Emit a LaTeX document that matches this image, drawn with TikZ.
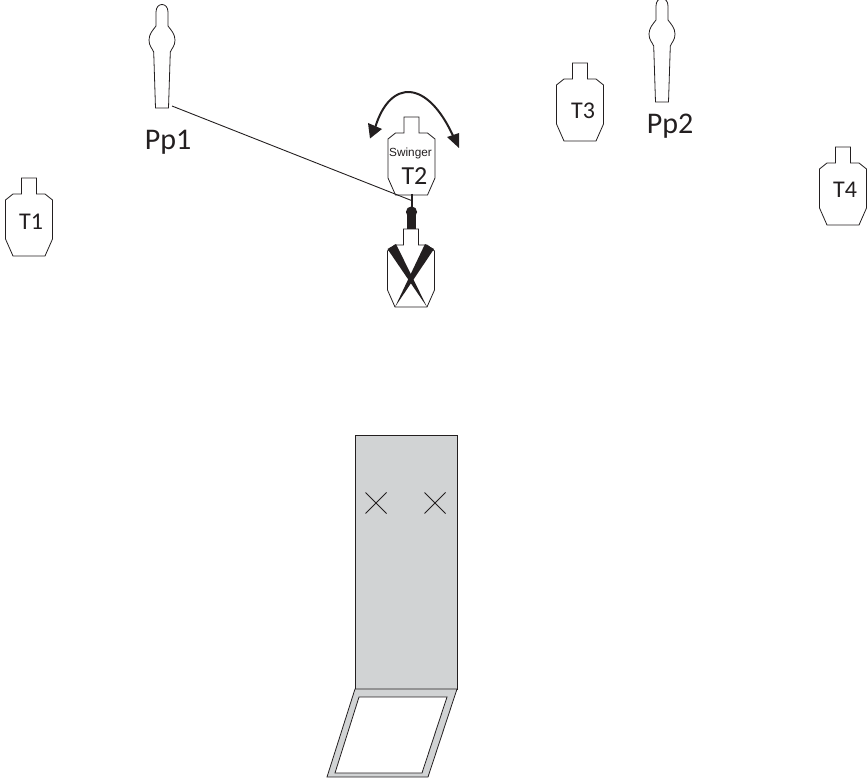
\documentclass[tikz,border=0pt]{standalone}
\usepackage{fontspec}
\setmainfont{Carlito}
\newfontfamily\swfont{Liberation Sans}
\definecolor{rangegray}{HTML}{D1D3D4}
\definecolor{inkline}{HTML}{231F20}
\tikzset{
  outline/.style={draw=inkline,line width=0.8pt,line join=miter},
  thinline/.style={draw=inkline,line width=0.9pt},
  solidink/.style={fill=inkline,draw=none},
  tlabel/.style={inner sep=0pt,text=inkline,font=\fontsize{24}{24}\selectfont},
  tbiglabel/.style={inner sep=0pt,text=inkline,font=\fontsize{26}{26}\selectfont},
  plabel/.style={inner sep=0pt,text=inkline,font=\fontsize{30}{30}\selectfont},
  swlabel/.style={inner sep=0pt,text=inkline,font=\swfont\fontsize{11.8}{12}\selectfont},
  pics/targetshape/.style={code={
    \draw[outline,fill=white] (-7.5,0) -- (7.5,0) -- (7.5,16) -- (16,16) -- (23.5,22) -- (23.5,61) -- (16,78) -- (-16,78) -- (-23.5,61) -- (-23.5,22) -- (-16,16) -- (-7.5,16) -- cycle;
  }},
  pics/personshape/.style={code={
    \draw[outline,fill=white] (-6.5,103) -- (6.5,103) -- (8.3,47)
      .. controls (10,43) and (13,41) .. (13,35)
      .. controls (13,29) and (9,25) .. (6,21)
      -- (6,7) .. controls (6,-3) and (-6,-3) .. (-6,7) -- (-6,21)
      .. controls (-9,25) and (-13,29) .. (-13,35)
      .. controls (-13,41) and (-10,43) .. (-8.3,47) -- cycle;
  }}
}
\begin{document}
\begin{tikzpicture}[x=1pt,y=-1pt]
\useasboundingbox (0,0) rectangle (867,778);
% shooting box
\draw[outline,fill=rangegray] (355,435) rectangle (457,689);
\draw[outline,fill=rangegray] (355,689) -- (457,689) -- (428,777) -- (327,777) -- cycle;
\draw[outline,fill=white] (359,697) -- (447,697) -- (422,773) -- (335,773) -- cycle;
% X marks
\foreach \cx in {376,435}{
  \draw[thinline,line width=1pt] (\cx-10.5,492.5) -- (\cx+10.5,513.5);
  \draw[thinline,line width=1pt] (\cx-10.5,513.5) -- (\cx+10.5,492.5);
}
% targets
\pic at (29,178) {targetshape};
\pic at (411.5,117) {targetshape};
\pic at (411,229) {targetshape};
\pic at (580,63) {targetshape};
\pic at (843,147) {targetshape};
% no-shoot X
\fill[solidink] (387.5,249) -- (396,244) -- (427,307) -- cycle;
\fill[solidink] (434,249) -- (425,244) -- (395,307) -- cycle;
% people
\pic at (162,5) {personshape};
\pic at (662,-1) {personshape};
% swinger mechanism
\coordinate (stemtop) at (411.5,194);
\coordinate (hub) at (411.5,212);
\coordinate (mounttop) at (411.5,229);
\coordinate (shooter) at (172,106);
\coordinate (stemjoin) at (411.5,200.5);
\draw[inkline,line width=2pt] (stemtop) -- (hub);
\fill[solidink] (hub) circle (5.6);
\draw[inkline,line width=9pt] (hub) -- (mounttop);
\draw[thinline] (shooter) -- (stemjoin);
% swing arrow
\coordinate (arcl) at (375,128);
\coordinate (arcr) at (454,138);
\draw[inkline,line width=2pt] (arcl) .. controls (390,78) and (428,79) .. (arcr);
\fill[solidink] (370,138.5) -- (368,123) -- (382,129) -- cycle;
\fill[solidink] (459,148) -- (447,137) -- (459,133) -- cycle;
% labels
\node[tlabel] (t1) at (31,222) {T1};
\node[tbiglabel] (t2) at (414.5,176.5) {T2};
\node[swlabel] (sw) at (410.5,153) {Swinger};
\node[tlabel] (t3) at (583,111) {T3};
\node[tlabel] (t4) at (845,190) {T4};
\node[plabel] (p1) at (168,142.5) {Pp1};
\node[plabel] (p2) at (670,126) {Pp2};
\end{tikzpicture}
\end{document}
